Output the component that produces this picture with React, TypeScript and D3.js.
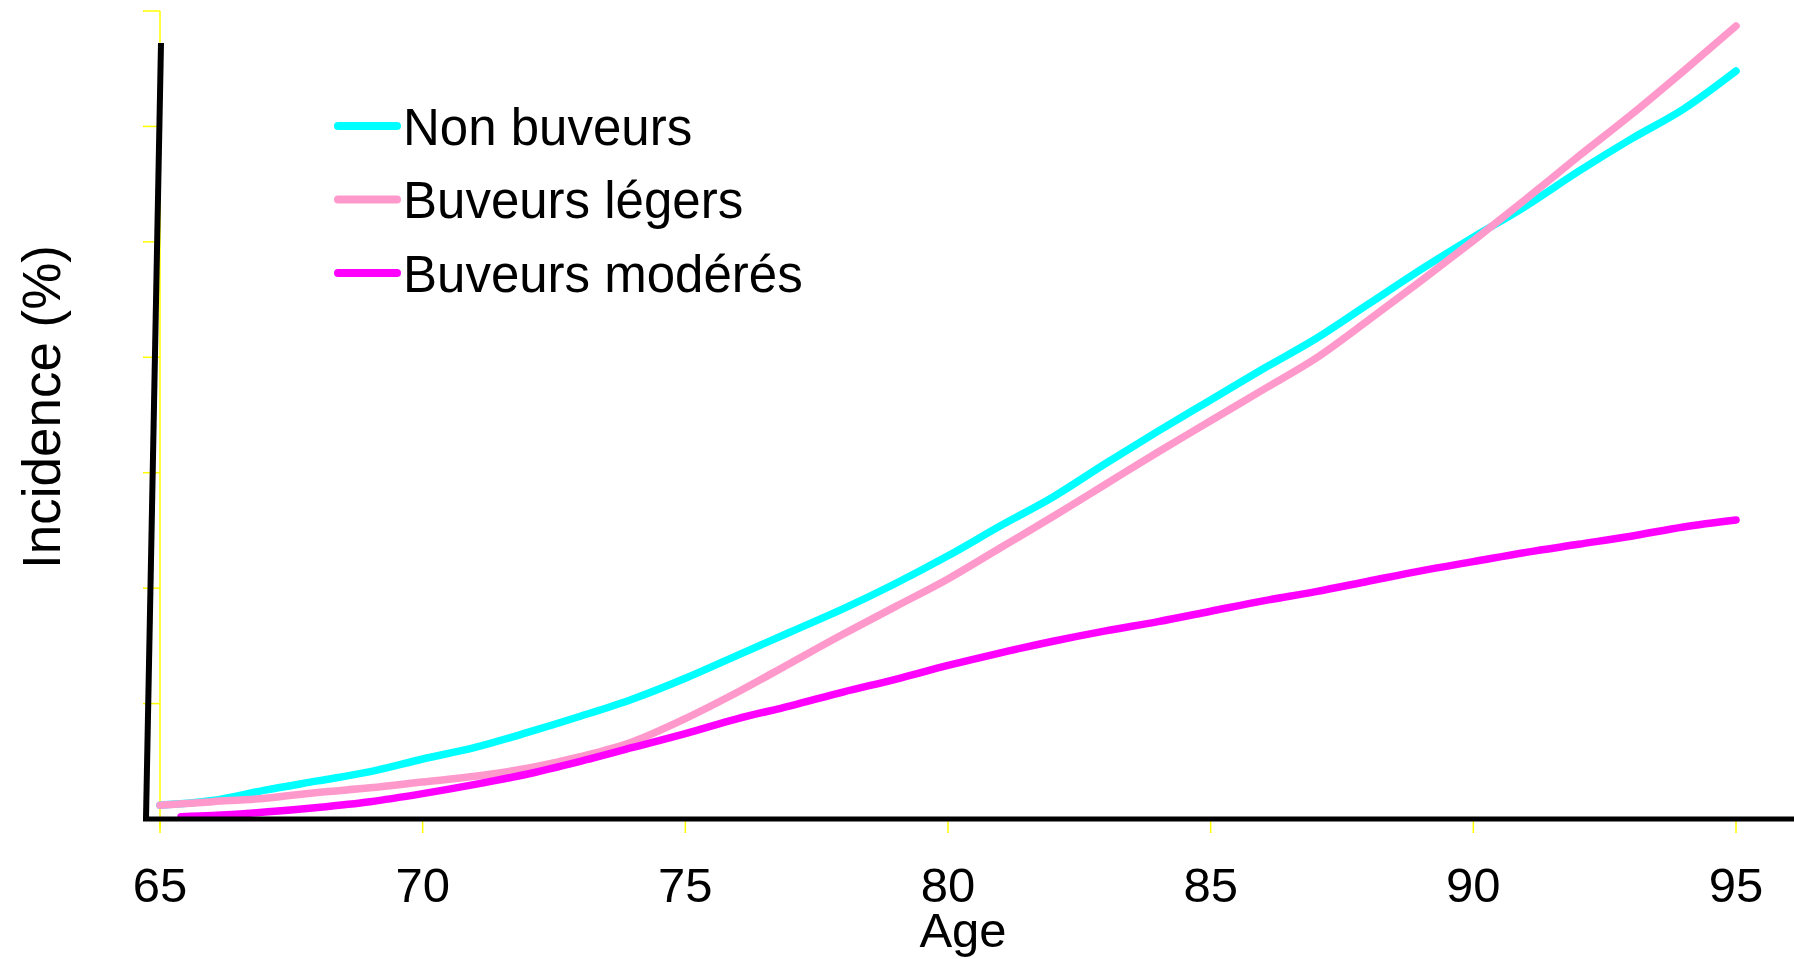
import React from "react";
import * as d3 from "d3";

const ages = [65, 66, 67, 68, 69, 70, 71, 72, 73, 74, 75, 76, 77, 78, 79, 80, 81, 82, 83, 84, 85, 86, 87, 88, 89, 90, 91, 92, 93, 94, 95];
const nonBuveurs = [0.12, 0.16, 0.25, 0.33, 0.41, 0.52, 0.62, 0.75, 0.89, 1.04, 1.22, 1.42, 1.62, 1.82, 2.04, 2.28, 2.54, 2.79, 3.08, 3.36, 3.63, 3.9, 4.16, 4.46, 4.76, 5.04, 5.31, 5.61, 5.89, 6.15, 6.48];
const buveursLegers = [0.12, 0.15, 0.18, 0.23, 0.27, 0.32, 0.37, 0.44, 0.54, 0.67, 0.87, 1.1, 1.35, 1.6, 1.84, 2.08, 2.35, 2.62, 2.9, 3.18, 3.45, 3.72, 3.99, 4.32, 4.66, 5.01, 5.37, 5.74, 6.1, 6.48, 6.87];
const modAges = [65.4, 66, 67, 68, 69, 70, 71, 72, 73, 74, 75, 76, 77, 78, 79, 80, 81, 82, 83, 84, 85, 86, 87, 88, 89, 90, 91, 92, 93, 94, 95];
const buveursModeres = [0.02, 0.03, 0.06, 0.1, 0.15, 0.22, 0.3, 0.39, 0.5, 0.62, 0.74, 0.87, 0.98, 1.1, 1.21, 1.33, 1.44, 1.54, 1.63, 1.71, 1.8, 1.89, 1.97, 2.06, 2.15, 2.23, 2.31, 2.38, 2.45, 2.53, 2.59];

const xTicks = [65, 70, 75, 80, 85, 90, 95];
const yTicks = [0, 1, 2, 3, 4, 5, 6, 7];
const seriesNames = ["Non buveurs", "Buveurs légers", "Buveurs modérés"];
const seriesColors = ["#00FFFF", "#FF99CC", "#FF00FF"];

const W = 1794;
const H = 959;
const FONT = "'Liberation Sans', Arial, Helvetica, sans-serif";

export default function App() {
  const x = d3.scaleLinear().domain([65, 95]).range([160, 1736]);
  const y = d3.scaleLinear().domain([0, 7]).range([819, 11]);

  const series = [
    { name: seriesNames[0], color: seriesColors[0], xs: ages, ys: nonBuveurs },
    { name: seriesNames[1], color: seriesColors[1], xs: ages, ys: buveursLegers },
    { name: seriesNames[2], color: seriesColors[2], xs: modAges, ys: buveursModeres },
  ];

  const line = d3
    .line<[number, number]>()
    .x((d) => x(d[0]))
    .y((d) => y(d[1]))
    .curve(d3.curveMonotoneX);

  const axisX = x(65);

  return (
    <svg
      width={W}
      height={H}
      viewBox={`0 0 ${W} ${H}`}
      style={{ position: "absolute", left: 0, top: 0, background: "#fff" }}
      fontFamily={FONT}
    >
      <rect x={0} y={0} width={W} height={H} fill="#fff" />
      {/* yellow axis */}
      <line x1={axisX} x2={axisX} y1={y(7)} y2={829} stroke="#FFFF00" strokeWidth={1.5} />
      {yTicks.map((t) => (
        <line key={"yt" + t} x1={axisX - 17} x2={axisX} y1={y(t)} y2={y(t)} stroke="#FFFF00" strokeWidth={1.5} />
      ))}
      {xTicks.map((t) => (
        <line key={"xt" + t} x1={x(t)} x2={x(t)} y1={y(0)} y2={833} stroke="#FFFF00" strokeWidth={1.5} />
      ))}

      {/* curves */}
      {series.map((s) => (
        <path
          key={s.name}
          d={line(s.xs.map((a, i) => [a, s.ys[i]] as [number, number])) || ""}
          fill="none"
          stroke={s.color}
          strokeWidth={7.5}
          strokeLinecap="round"
          strokeLinejoin="round"
        />
      ))}

      {/* black axes */}
      <line x1={161} y1={43} x2={146} y2={819} stroke="#000" strokeWidth={6} />
      <line x1={143} y1={819} x2={W} y2={819} stroke="#000" strokeWidth={5} />

      {/* tick labels */}
      {xTicks.map((t) => (
        <text key={"xl" + t} x={x(t)} y={902} fontSize={49} textAnchor="middle" fill="#000">
          {t}
        </text>
      ))}
      <text x={963} y={947} fontSize={49} textAnchor="middle" fill="#000">
        Age
      </text>
      <text
        transform={`translate(60, 407) rotate(-90)`}
        fontSize={53}
        textAnchor="middle"
        fill="#000"
      >
        Incidence (%)
      </text>

      {/* legend */}
      {series.map((s, i) => (
        <g key={"lg" + s.name}>
          <line
            x1={338}
            x2={397}
            y1={126 + i * 73.5}
            y2={126 + i * 73.5}
            stroke={s.color}
            strokeWidth={8}
            strokeLinecap="round"
          />
          <text x={403} y={144.5 + i * 73.5} fontSize={51} fill="#000">
            {s.name}
          </text>
        </g>
      ))}
    </svg>
  );
}
